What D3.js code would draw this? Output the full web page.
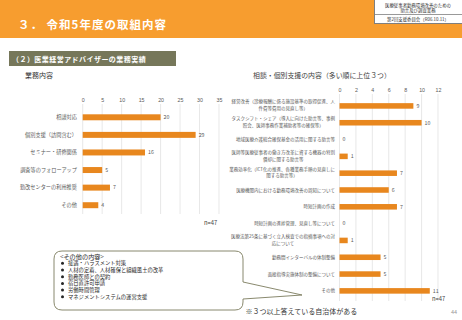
<!DOCTYPE html>
<html>
<head>
<meta charset="utf-8">
<script src="https://cdn.jsdelivr.net/npm/d3@7"></script>
<style>
  body { margin: 0; background: #fff; }
  svg { font-family: "Noto Sans CJK JP", "Noto Sans", sans-serif; display: block; }
</style>
</head>
<body>
<svg id="chart" width="462" height="320"></svg>
<script>
// left chart: 業務内容
const taskNames = ['相談対応', '個別支援（訪問含む）', 'セミナー・研修関係', '調査等のフォローアップ', '勤改センターの利用推奨', 'その他'];
const taskValues = [20, 29, 16, 5, 7, 4];
const taskTicks = [0, 5, 10, 15, 20, 25, 30, 35];

// right chart: 相談・個別支援の内容
const supportNames = [
    ['経営改善（診療報酬に係る施設基準の取得促進、人', '件費等費用の見直し等）'],
    ['タスクシフト・シェア（導入に向けた助言等、事例', '照会、医師事務作業補助者等の確保等）'],
    ['地域医療介護総合確保基金の活用に関する助言等'],
    ['医師等医療従事者の働き方改革に資する機器の特別', '償却に関する助言等'],
    ['業務効率化（ICT化の推進、各種業務手順の見直しに', '関する助言等）'],
    ['医療機関内における勤務環境改善の周知について'],
    ['時短計画の作成'],
    ['時短計画の進捗管理、見直し等について'],
    ['医療法第25条に基づく立入検査での指摘事項への対', '応について'],
    ['勤務間インターバルの体制整備'],
    ['面接指導実施体制の整備について'],
    ['その他']
];
const supportValues = [9, 10, 0, 1, 7, 6, 7, 0, 1, 5, 5, 11];
const supportTicks = [0, 2, 4, 6, 8, 10, 12];

const otherItems = ['接遇・ハラスメント対策', '人材の定着、人材確保と組織風土の改革', '勤務医師との契約',
    '宿日直許可申請', '労働時間管理', 'マネジメントシステムの運営支援'];

const barColor = '#E8871E';
const gridColor = '#D9D9D9';
const labelColor = '#595959';

const svg = d3.select('#chart');

// header band
svg.append('rect').attr('x', 0).attr('y', 0).attr('width', 462).attr('height', 38).attr('fill', '#F79D2F');
svg.append('text').attr('x', 18).attr('y', 29)
    .attr('fill', '#fff').attr('font-size', 11.5).attr('font-weight', 'bold')
    .style('letter-spacing', '1px')
    .text('３． 令和5年度の取組内容');

// top right box
const box = svg.append('g');
box.append('rect').attr('x', 374.5).attr('y', -1).attr('width', 90).attr('height', 24.5)
    .attr('fill', '#fff').attr('stroke', '#7f7f7f').attr('stroke-width', 1);
box.append('line').attr('x1', 374.5).attr('x2', 462).attr('y1', 14.5).attr('y2', 14.5)
    .attr('stroke', '#7f7f7f').attr('stroke-width', 0.8);
box.append('text').attr('x', 418).attr('y', 6.5).attr('text-anchor', 'middle')
    .attr('font-size', 4.4).attr('fill', '#333').text('医療従事者勤務環境改善のための');
box.append('text').attr('x', 418).attr('y', 11.8).attr('text-anchor', 'middle')
    .attr('font-size', 4.4).attr('fill', '#333').text('助言及び調査業務');
box.append('text').attr('x', 418).attr('y', 21).attr('text-anchor', 'middle')
    .attr('font-size', 4.4).attr('fill', '#333').text('第2回支援委員会（R06.10.11）');

// sub heading
svg.append('rect').attr('x', 9).attr('y', 51).attr('width', 167).attr('height', 15).attr('fill', '#76775A');
svg.append('text').attr('x', 12).attr('y', 61.5).attr('fill', '#fff')
    .attr('font-size', 7).attr('font-weight', 'bold').style('letter-spacing', '0.45px')
    .text('（２）医業経営アドバイザーの業務実績');

// ---- left chart
svg.append('text').attr('x', 25).attr('y', 78).attr('font-size', 7).attr('fill', '#333').text('業務内容');

const x1 = d3.scaleLinear().domain([0, 35]).range([82.7, 219]);
const y1 = d3.scaleBand().domain(taskNames).range([108.5, 214]).paddingInner(0.66).paddingOuter(0.33);

const left = svg.append('g');
left.selectAll('.grid').data(taskTicks).enter().append('line')
    .attr('x1', d => x1(d)).attr('x2', d => x1(d))
    .attr('y1', 104).attr('y2', 214)
    .attr('stroke', gridColor).attr('stroke-width', 0.6);

const axis1 = left.append('g').attr('transform', 'translate(0,103)')
    .call(d3.axisTop(x1).tickValues(taskTicks).tickSize(0).tickPadding(1.5));
axis1.select('.domain').remove();
axis1.selectAll('text').attr('font-size', 5.3).attr('fill', labelColor).attr('font-family', null);

left.selectAll('.bar').data(taskValues).enter().append('rect')
    .attr('x', x1(0)).attr('y', (d, i) => y1(taskNames[i]))
    .attr('width', d => x1(d) - x1(0)).attr('height', y1.bandwidth())
    .attr('fill', barColor);

left.selectAll('.val').data(taskValues).enter().append('text')
    .attr('x', d => x1(d) + 3).attr('y', (d, i) => y1(taskNames[i]) + y1.bandwidth() / 2 + 1.8)
    .attr('font-size', 5.3).attr('fill', labelColor).text(d => d);

left.selectAll('.cat').data(taskNames).enter().append('text')
    .attr('x', 77).attr('y', d => y1(d) + y1.bandwidth() / 2 + 1.8)
    .attr('text-anchor', 'end').attr('font-size', 5.2).attr('fill', labelColor).text(d => d);

svg.append('text').attr('x', 204).attr('y', 225).attr('font-size', 5.8).attr('fill', '#404040').text('n=47');

// ---- right chart
svg.append('text').attr('x', 253).attr('y', 77.5).attr('font-size', 6.9).attr('fill', '#404040')
    .text('相談・個別支援の内容（多い順に上位３つ）');

const x2 = d3.scaleLinear().domain([0, 12]).range([339.5, 438]);
const y2 = d3.scaleBand().domain(d3.range(supportNames.length)).range([97.6, 299.2]).paddingInner(0.67).paddingOuter(0.33);

const right = svg.append('g');
right.selectAll('.grid').data(supportTicks).enter().append('line')
    .attr('x1', d => x2(d)).attr('x2', d => x2(d))
    .attr('y1', 94).attr('y2', 301)
    .attr('stroke', gridColor).attr('stroke-width', 0.6);

const axis2 = right.append('g').attr('transform', 'translate(0,93)')
    .call(d3.axisTop(x2).tickValues(supportTicks).tickSize(0).tickPadding(1.5));
axis2.select('.domain').remove();
axis2.selectAll('text').attr('font-size', 5.3).attr('fill', labelColor).attr('font-family', null);

right.selectAll('.bar').data(supportValues).enter().append('rect')
    .attr('x', x2(0)).attr('y', (d, i) => y2(i))
    .attr('width', d => x2(d) - x2(0)).attr('height', y2.bandwidth())
    .attr('fill', barColor);

right.selectAll('.val').data(supportValues).enter().append('text')
    .attr('x', d => x2(d) + 3).attr('y', (d, i) => y2(i) + y2.bandwidth() / 2 + 1.8)
    .attr('font-size', 5.3).attr('fill', labelColor).text(d => d);

// category labels: block right-aligned, lines centred inside the block
const catRight = 335;
const lineGap = 6.8;
supportNames.forEach((lines, i) => {
    const g = right.append('g');
    const cy = y2(i) + y2.bandwidth() / 2 - (lines.length > 1 ? 0.8 : 0);
    const top = cy - (lines.length - 1) * lineGap / 2;
    const texts = lines.map((ln, j) => g.append('text')
        .attr('y', top + j * lineGap + 1.6)
        .attr('font-size', 4.5).attr('fill', labelColor).attr('text-anchor', 'middle').text(ln));
    const w = d3.max(texts, t => t.node().getComputedTextLength());
    texts.forEach(t => t.attr('x', catRight - w / 2));
});

svg.append('text').attr('x', 432).attr('y', 301).attr('font-size', 5.8).attr('fill', '#404040').text('n=47');

// ---- callout box
const bx0 = 54, bx1 = 243, by0 = 251, by1 = 310, r = 8;
const path = d3.path();
path.moveTo(bx0 + r, by0);
path.lineTo(bx1 - r, by0);
path.quadraticCurveTo(bx1, by0, bx1, by0 + r);
path.lineTo(bx1, 282);
path.lineTo(302, 295);
path.lineTo(bx1, 299);
path.lineTo(bx1, by1 - r);
path.quadraticCurveTo(bx1, by1, bx1 - r, by1);
path.lineTo(bx0 + r, by1);
path.quadraticCurveTo(bx0, by1, bx0, by1 - r);
path.lineTo(bx0, by0 + r);
path.quadraticCurveTo(bx0, by0, bx0 + r, by0);
path.closePath();
svg.append('path').attr('d', path.toString()).attr('fill', '#fff')
    .attr('stroke', '#7C7C5E').attr('stroke-width', 0.9);

svg.append('text').attr('x', 60).attr('y', 258.5).attr('font-size', 6.2).attr('fill', '#262626').text('<その他の内容>');
const items = svg.append('g');
items.selectAll('circle').data(otherItems).enter().append('circle')
    .attr('cx', 62.5).attr('cy', (d, i) => 263.3 + i * 6.7).attr('r', 1.5).attr('fill', '#262626');
items.selectAll('text').data(otherItems).enter().append('text')
    .attr('x', 68).attr('y', (d, i) => 263.3 + i * 6.7 + 1.9)
    .attr('font-size', 5.3).attr('fill', '#262626').text(d => d);

// footer
svg.append('text').attr('x', 245.5).attr('y', 314).attr('font-size', 7).attr('fill', '#333')
    .text('※３つ以上答えている自治体がある');
svg.append('text').attr('x', 451).attr('y', 314).attr('font-size', 5.5).attr('fill', '#9a9a9a').text('44');
</script>
</body>
</html>
